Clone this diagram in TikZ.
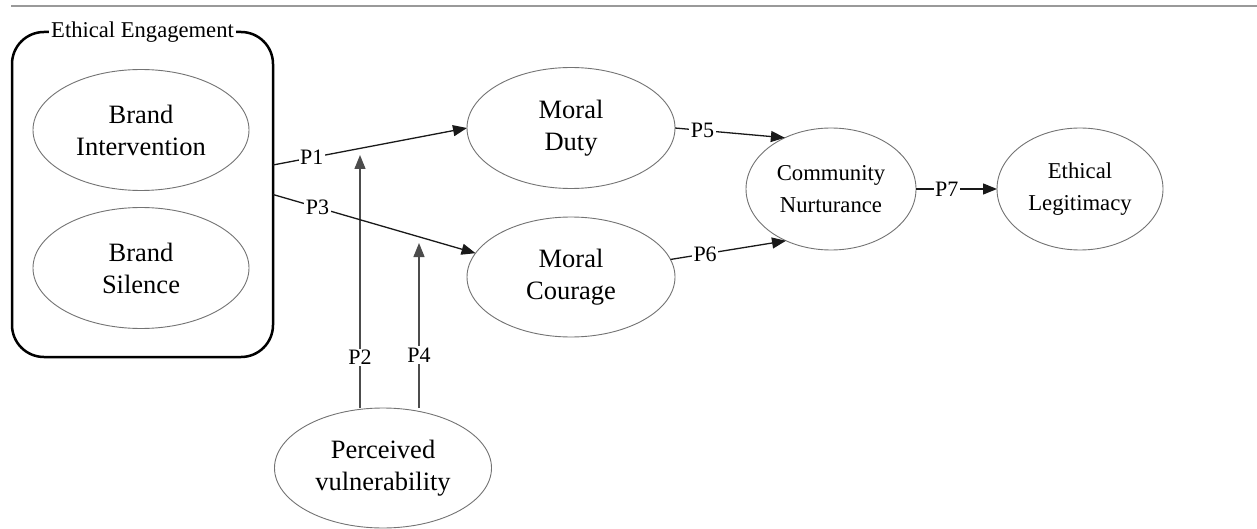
\documentclass[tikz,border=0pt]{standalone}
\usepackage{fontspec}
\setmainfont{Liberation Serif}
\newfontfamily\tnr{Liberation Serif}
\usetikzlibrary{arrows.meta,shapes.geometric,backgrounds,calc}
\begin{document}
\begin{tikzpicture}[x=1pt,y=-1pt,
  ell/.style={ellipse,draw=black!55,line width=0.9pt,fill=white,inner sep=0pt,outer sep=0pt,align=center,font=\tnr\fontsize{26.5}{32}\selectfont},
  ells/.style={ell,font=\tnr\fontsize{22.7}{32}\selectfont},
  conn/.style={draw=black!90,line width=1.3pt,-{Triangle[length=14pt,width=11pt]}},
  vconn/.style={conn,draw=black!70},
  lab/.style={fill=white,inner sep=1.5pt,font=\tnr\fontsize{22}{24}\selectfont},
]
\useasboundingbox (0,0) rectangle (1257,529);
\draw[black!40,line width=2pt] (11,6) -- (1257,6);

% group box
\node[draw,line width=2.5pt,rounded corners=32pt,minimum width=261pt,minimum height=325pt,inner sep=0pt,outer sep=0pt] (ee) at (142.5,194.5) {};
\node[lab,font=\tnr\fontsize{22.6}{24}\selectfont,inner sep=2pt] (eet) at (ee.north) {Ethical Engagement};

% ellipses
\node[ell,minimum width=216pt,minimum height=121pt] (bi) at (141,130) {Brand\\Intervention};
\node[ell,minimum width=216pt,minimum height=121pt] (bs) at (141,268) {Brand\\Silence};
\node[ell,minimum width=208pt,minimum height=121pt] (md) at (571,128) {Moral\\Duty};
\node[ell,minimum width=208pt,minimum height=120pt] (mc) at (571,277) {Moral\\Courage};
\node[ells,minimum width=170pt,minimum height=122pt] (cn) at (831,189) {Community\\Nurturance};
\node[ells,minimum width=166pt,minimum height=122pt] (el) at (1080,189) {Ethical\\Legitimacy};
\node[ell,minimum width=217pt,minimum height=120pt] (pv) at (383,468) {Perceived\\vulnerability};

% connectors
\coordinate (p1s) at ($(ee.east)+(0,-29.5)$);
\draw[conn] (p1s) -- node[lab,pos=0.2]{P1} (md.west);
\draw[conn] (ee.east) -- node[lab,pos=0.22]{P3} (mc.166);
\draw[conn] (md.east) -- node[lab,pos=0.25]{P5} (cn.132);
\draw[conn] (mc.10) -- node[lab,pos=0.3]{P6} (cn.229);
\draw[conn] (cn.east) -- node[lab,pos=0.38]{P7} (el.west);

\coordinate (p2t) at (360,155);
\coordinate (p4t) at (419,243);
\begin{pgfonlayer}{background}
\draw[vconn] (p2t |- pv.north) -- node[lab,pos=0.2]{P2} (p2t);
\draw[vconn] (p4t |- pv.north) -- node[lab,pos=0.32]{P4} (p4t);
\end{pgfonlayer}
\end{tikzpicture}
\end{document}
